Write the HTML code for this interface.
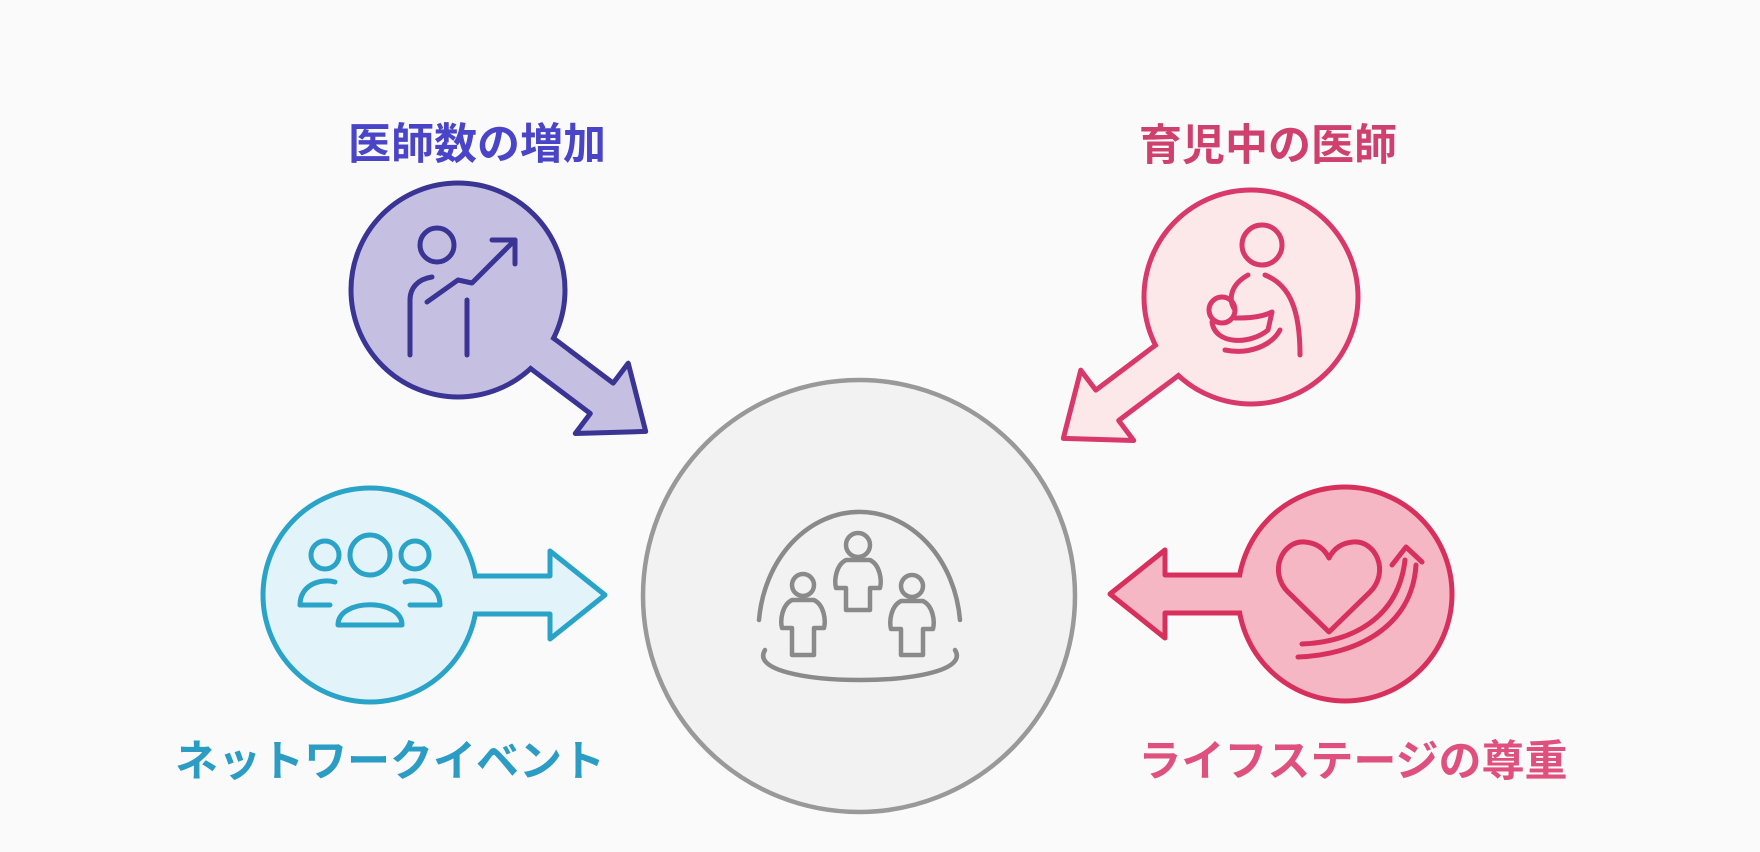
<!DOCTYPE html>
<html><head><meta charset="utf-8"><style>
html,body{margin:0;padding:0;background:#fafafa;}
svg{display:block}
text{font-family:"Liberation Sans","Noto Sans CJK JP",sans-serif;font-weight:bold;}
</style></head><body>
<svg width="1760" height="852" viewBox="0 0 1760 852" xmlns="http://www.w3.org/2000/svg">
<rect width="1760" height="852" fill="#fafafa"/>
<defs>
<path id="arr" d="M80,-19 L180,-19 L180,-44 L235,0 L180,44 L180,19 L80,19 Z"/>
</defs>

<circle cx="859" cy="596" r="216" fill="#f2f2f2" stroke="#999" stroke-width="4.5"/>
<g fill="none" stroke="#8a8a8a" stroke-width="4.5" stroke-linecap="round" stroke-linejoin="round">
<path d="M759,620 A101,120 0 0 1 960,620"/>
<path d="M765,650 C740,690 980,690 955,650"/>
<circle cx="858" cy="545" r="12"/>
<path d="M846,560 C836,565 834,580 836,588 L846,588 L846,610 L870,610 L870,588 L880,588 C882,580 880,565 870,560 Z"/>
<circle cx="803" cy="585" r="11"/>
<path d="M792,600 C782,605 780,620 782,628 L792,628 L792,655 L814,655 L814,628 L824,628 C826,620 824,605 814,600 Z"/>
<circle cx="912" cy="586" r="11"/>
<path d="M901,601 C891,606 889,621 891,629 L901,629 L901,655 L923,655 L923,629 L933,629 C935,621 933,606 923,601 Z"/>
</g>

<g transform="translate(458,290) rotate(37)"><use href="#arr" fill="#c5c0e2" stroke="#3a3494" stroke-width="5" stroke-linejoin="round"/></g>
<circle cx="458" cy="290" r="107" fill="#c5c0e2" stroke="#3a3494" stroke-width="5"/>
<g transform="translate(458,290) rotate(37)"><rect x="95" y="-16.5" width="30" height="33" fill="#c5c0e2"/></g>
<g fill="none" stroke="#3a3494" stroke-width="5" stroke-linecap="round" stroke-linejoin="round">
<circle cx="437" cy="245" r="17"/>
<path d="M432,277 C418,279 410,288 410,300 L410,355"/>
<path d="M467,300 L467,355"/>
<path d="M427,302 L458,280 L472,283 L515,240"/>
<path d="M492,240 L515,240 L515,264"/>
</g>
<text x="477" y="159" font-size="43" fill="#4a45c8" text-anchor="middle">医師数の増加</text>

<g transform="translate(1251,297) rotate(143)"><use href="#arr" fill="#fce8e8" stroke="#d8386a" stroke-width="5" stroke-linejoin="round"/></g>
<circle cx="1251" cy="297" r="107" fill="#fce8e8" stroke="#d8386a" stroke-width="5"/>
<g transform="translate(1251,297) rotate(143)"><rect x="95" y="-16.5" width="30" height="33" fill="#fce8e8"/></g>
<g fill="none" stroke="#d8386a" stroke-width="5" stroke-linecap="round" stroke-linejoin="round">
<circle cx="1262" cy="245" r="20"/>
<path d="M1248,275 C1230,285 1228,300 1235,310 M1265,275 C1290,285 1300,310 1300,355"/>
<circle cx="1222" cy="310" r="13"/>
<path d="M1212,322 C1215,345 1250,345 1268,330 L1272,312 C1260,318 1245,318 1235,318"/>
<path d="M1225,350 C1250,355 1272,345 1280,330"/>
</g>
<text x="1268" y="160" font-size="43" fill="#d0406e" text-anchor="middle">育児中の医師</text>

<g transform="translate(370,595)"><use href="#arr" fill="#e2f4f9" stroke="#2aa3c9" stroke-width="5" stroke-linejoin="round"/></g>
<circle cx="370" cy="595" r="107" fill="#e2f4f9" stroke="#2aa3c9" stroke-width="5"/>
<rect x="465" y="578.5" width="30" height="33" fill="#e2f4f9"/>
<g fill="none" stroke="#2aa3c9" stroke-width="5" stroke-linecap="round" stroke-linejoin="round">
<circle cx="370" cy="555" r="20"/>
<path d="M338,625 C338,598 402,598 402,625 Z"/>
<circle cx="325" cy="555" r="14"/>
<circle cx="415" cy="555" r="14"/>
<path d="M300,605 C300,585 320,578 335,582"/>
<path d="M440,605 C440,585 420,578 405,582"/>
<path d="M300,605 L330,605 M410,605 L440,605"/>
</g>
<text x="390" y="776" font-size="43" fill="#2b9cc4" text-anchor="middle">ネットワークイベント</text>

<g transform="translate(1345,594) rotate(180)"><use href="#arr" fill="#f5b7c4" stroke="#d8305c" stroke-width="5" stroke-linejoin="round"/></g>
<circle cx="1345" cy="594" r="107" fill="#f5b7c4" stroke="#d8305c" stroke-width="5"/>
<rect x="1220" y="577.5" width="30" height="33" fill="#f5b7c4"/>
<g fill="none" stroke="#d8305c" stroke-width="5" stroke-linecap="round" stroke-linejoin="round">
<path d="M1329,632 L1288,592 C1268,572 1282,540 1305,542 C1318,543 1325,550 1329,558 C1333,550 1340,543 1353,542 C1376,540 1390,572 1370,592 Z"/>
<path d="M1302,644 C1350,642 1398,620 1405,560"/>
<path d="M1298,657 C1355,655 1412,628 1416,565"/>
<path d="M1392,565 L1406,547 L1422,562"/>
</g>
<text x="1353" y="776" font-size="43" fill="#e0507f" text-anchor="middle">ライフステージの尊重</text>
</svg>
</body></html>
